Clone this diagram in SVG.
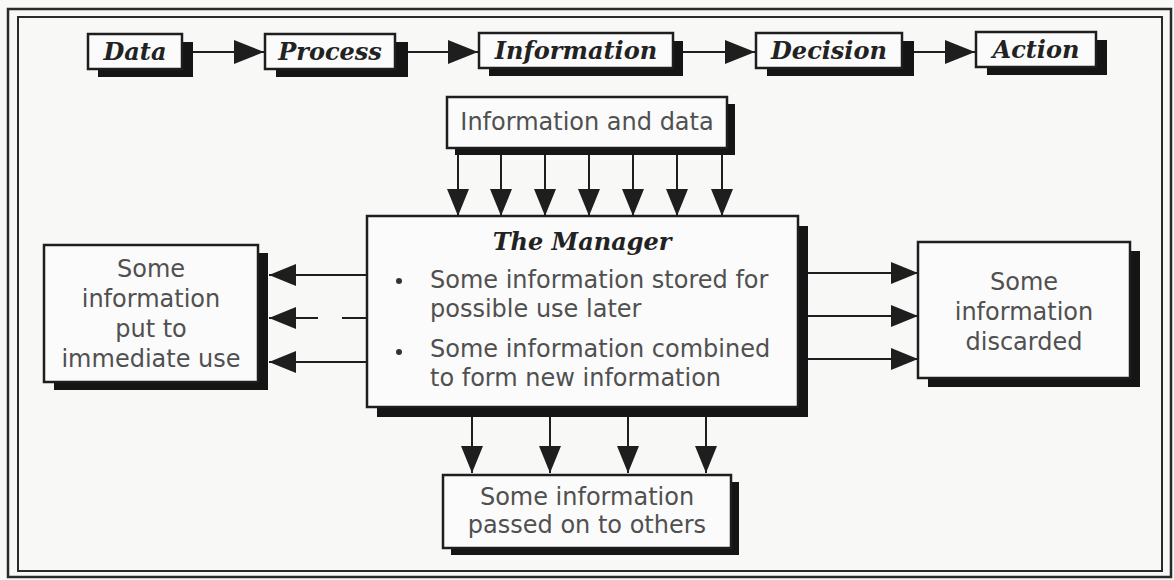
<svg xmlns="http://www.w3.org/2000/svg" width="1174" height="580" viewBox="0 0 1174 580">
  <defs>
    <marker id="ah" markerUnits="userSpaceOnUse" markerWidth="28" markerHeight="24" refX="27" refY="11" orient="auto">
      <path d="M0,0 L27,11 L0,22 z" fill="#1e1e1e"/>
    </marker>
    <marker id="ahTop" markerUnits="userSpaceOnUse" markerWidth="31" markerHeight="25" refX="30" refY="12" orient="auto">
      <path d="M0,0 L30,12 L0,24 z" fill="#1e1e1e"/>
    </marker>
  </defs>
  <style>
    .frame { fill: none; stroke: #2a2a2a; }
    .box { fill: #fbfbfb; stroke: #1e1e1e; stroke-width: 2.5; }
    .shadow { fill: #151515; }
    .conn { stroke: #1e1e1e; stroke-width: 2; fill: none; marker-end: url(#ah); }
    .connTop { stroke: #1e1e1e; stroke-width: 2; fill: none; marker-end: url(#ahTop); }
    .plain { stroke: #1e1e1e; stroke-width: 2; fill: none; }
    .title { font-family: "DejaVu Serif", "Liberation Serif", serif; font-weight: bold; font-style: italic; font-size: 24px; fill: #222; text-anchor: middle; }
    .body { font-family: "DejaVu Sans", "Liberation Sans", sans-serif; font-size: 24px; fill: #505050; }
    .mid { text-anchor: middle; }
  </style>
  <rect x="0" y="0" width="1174" height="580" fill="#f8f8f7"/>
  <rect class="frame" x="8" y="9" width="1163" height="568" stroke-width="2.5"/>
  <rect class="frame" x="18" y="17" width="1144" height="554" stroke-width="2"/>

  <g id="connectors">
    <line class="connTop" x1="193" y1="52" x2="264" y2="52"/>
    <line class="connTop" x1="408" y1="52" x2="478" y2="52"/>
    <line class="connTop" x1="683" y1="52" x2="755" y2="52"/>
    <line class="connTop" x1="914" y1="52" x2="975" y2="52"/>

    <line class="conn" x1="458" y1="155" x2="458" y2="216"/>
    <line class="conn" x1="501" y1="155" x2="501" y2="216"/>
    <line class="conn" x1="545" y1="155" x2="545" y2="216"/>
    <line class="conn" x1="589" y1="155" x2="589" y2="216"/>
    <line class="conn" x1="633" y1="155" x2="633" y2="216"/>
    <line class="conn" x1="677" y1="155" x2="677" y2="216"/>
    <line class="conn" x1="722" y1="155" x2="722" y2="216"/>

    <line class="conn" x1="367" y1="275" x2="269" y2="275"/>
    <line class="conn" x1="318" y1="318" x2="269" y2="318"/>
    <line class="plain" x1="342" y1="318" x2="367" y2="318"/>
    <line class="conn" x1="367" y1="362" x2="269" y2="362"/>

    <line class="conn" x1="808" y1="273" x2="918" y2="273"/>
    <line class="conn" x1="808" y1="316" x2="918" y2="316"/>
    <line class="conn" x1="808" y1="359" x2="918" y2="359"/>

    <line class="conn" x1="472" y1="417" x2="472" y2="473"/>
    <line class="conn" x1="550" y1="417" x2="550" y2="473"/>
    <line class="conn" x1="628" y1="417" x2="628" y2="473"/>
    <line class="conn" x1="706" y1="417" x2="706" y2="473"/>
  </g>

  <g id="node-data">
    <rect class="shadow" x="98" y="42" width="95" height="35"/>
    <rect class="box" x="88" y="34" width="94" height="35"/>
    <text class="title" x="135" y="60">Data</text>
  </g>
  <g id="node-process">
    <rect class="shadow" x="276" y="42" width="132" height="35"/>
    <rect class="box" x="265" y="34" width="130" height="35"/>
    <text class="title" x="330" y="60">Process</text>
  </g>
  <g id="node-information">
    <rect class="shadow" x="489" y="41" width="194" height="35"/>
    <rect class="box" x="479" y="33" width="194" height="35"/>
    <text class="title" x="576" y="59">Information</text>
  </g>
  <g id="node-decision">
    <rect class="shadow" x="767" y="41" width="147" height="35"/>
    <rect class="box" x="756" y="33" width="146" height="35"/>
    <text class="title" x="829" y="59">Decision</text>
  </g>
  <g id="node-action">
    <rect class="shadow" x="987" y="40" width="120" height="35"/>
    <rect class="box" x="976" y="32" width="120" height="35"/>
    <text class="title" x="1036" y="58">Action</text>
  </g>

  <g id="node-info-data">
    <rect class="shadow" x="455" y="104" width="280" height="51"/>
    <rect class="box" x="447" y="97" width="280" height="51"/>
    <text class="body mid" x="587" y="130">Information and data</text>
  </g>

  <g id="node-manager">
    <rect class="shadow" x="377" y="226" width="431" height="191"/>
    <rect class="box" x="367" y="216" width="431" height="191"/>
    <text class="title" x="582" y="250" font-size="23">The Manager</text>
    <circle cx="399" cy="281" r="3" fill="#333"/>
    <circle cx="399" cy="352" r="3" fill="#333"/>
    <text class="body" x="430" y="288">Some information stored for</text>
    <text class="body" x="430" y="317">possible use later</text>
    <text class="body" x="430" y="357">Some information combined</text>
    <text class="body" x="430" y="386">to form new information</text>
  </g>

  <g id="node-immediate">
    <rect class="shadow" x="54" y="253" width="214" height="137"/>
    <rect class="box" x="44" y="245" width="214" height="137"/>
    <text class="body mid" x="151" y="277">Some</text>
    <text class="body mid" x="151" y="307">information</text>
    <text class="body mid" x="151" y="337">put to</text>
    <text class="body mid" x="151" y="367">immediate use</text>
  </g>

  <g id="node-discarded">
    <rect class="shadow" x="928" y="251" width="212" height="136"/>
    <rect class="box" x="918" y="242" width="212" height="136"/>
    <text class="body mid" x="1024" y="290">Some</text>
    <text class="body mid" x="1024" y="320">information</text>
    <text class="body mid" x="1024" y="350">discarded</text>
  </g>

  <g id="node-passed">
    <rect class="shadow" x="451" y="482" width="288" height="73"/>
    <rect class="box" x="443" y="475" width="288" height="73"/>
    <text class="body mid" x="587" y="505">Some information</text>
    <text class="body mid" x="587" y="533">passed on to others</text>
  </g>
</svg>
